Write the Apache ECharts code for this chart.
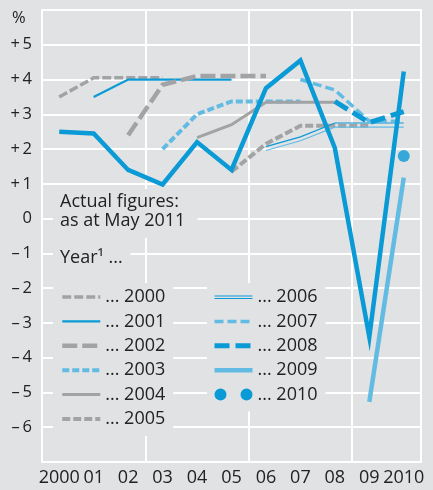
<!DOCTYPE html>
<html>
<head>
<meta charset="utf-8">
<script src="https://cdn.jsdelivr.net/npm/echarts@6/dist/echarts.min.js"></script>
<style>
html, body { margin: 0; padding: 0; background: #e1e2e4; }
#chart { width: 433px; height: 490px; }
</style>
</head>
<body>
<div id="chart"></div>
<script>
// x categories and tick labels
const years = [2000, 2001, 2002, 2003, 2004, 2005, 2006, 2007, 2008, 2009, 2010];
const yearLabels = ['2000', '01', '02', '03', '04', '05', '06', '07', '08', '09', '2010'];

// actual figures (as at May 2011)
const actual = [2.5, 2.45, 1.4, 0.98, 2.2, 1.4, 3.75, 4.55, 2.03, -3.4, 4.23];

// forecasts made in year ... (first value belongs to that year)
const fc2000 = [3.5, 4.05, 4.05, 4.05];
const fc2001 = [3.5, 4.0, 4.0, 4.0, 4.0];
const fc2002 = [2.4, 3.85, 4.1, 4.1, 4.1];
const fc2003 = [2.0, 3.0, 3.37, 3.37, 3.37];
const fc2004 = [2.33, 2.7, 3.35, 3.35, 3.35];
const fc2005 = [1.35, 2.15, 2.67, 2.67, 2.67];
const fc2006 = [2.07, 2.35, 2.75, 2.75, 2.75];
const fc2006b = [1.96, 2.24, 2.63, 2.63, 2.63];
const fc2007 = [4.0, 3.7, 2.8, 2.8];
const fc2008 = [3.37, 2.76, 3.08];
const fc2009 = [-5.27, 1.18];
const fc2010 = [1.8];

const BG = '#e1e2e4';
const GREY = '#a2a3a5';
const BLUE = '#0a9ad6';
const LBLUE = '#62bbe2';
const TXT = '#222';
const FONT = 'Open Sans';

function seg(start, vals) {
    return vals.map((v, i) => [start + i, v]);
}

function line(name, start, vals, color, width, type, z) {
    return {
        name: name,
        type: 'line',
        xAxisIndex: 0,
        symbol: 'none',
        z: z || 2,
        color: color,
        lineStyle: { color: color, width: width, type: type || 'solid', cap: 'butt', join: 'miter' },
        data: seg(start, vals)
    };
}

const legendText = {
    fontFamily: FONT,
    fontSize: 18,
    lineHeight: 17,
    color: TXT
};

const option = {
    backgroundColor: BG,
    animation: false,
    grid: {
        left: 42, right: 12, top: 10, bottom: 28,
        show: true,
        borderColor: '#fff',
        borderWidth: 2
    },
    xAxis: [
        {
            type: 'value',
            min: 1999.5,
            max: 2010.5,
            interval: 3,
            axisLine: { show: false },
            axisTick: { show: false },
            axisLabel: { show: false },
            splitLine: { lineStyle: { color: '#fff', width: 2 } }
        },
        {
            type: 'category',
            position: 'bottom',
            data: yearLabels,
            boundaryGap: true,
            axisLine: { show: false },
            axisTick: { inside: true, interval: 0, length: 19, lineStyle: { color: '#fff', width: 2 } },
            axisLabel: { interval: 0, margin: 7, fontFamily: FONT, fontSize: 18, color: TXT },
            splitLine: { show: false }
        }
    ],
    yAxis: {
        type: 'value',
        min: -7,
        max: 6,
        interval: 1,
        axisLine: { show: false },
        axisTick: { show: false },
        splitLine: { lineStyle: { color: '#fff', width: 2 } },
        axisLabel: {
            margin: 10,
            fontFamily: FONT,
            fontSize: 16.5,
            color: TXT,
            formatter: function (v) {
                if (v === 6 || v === -7) return '';
                if (v > 0) return '+\u2009' + v;
                if (v < 0) return '\u2013\u2009' + (-v);
                return '0';
            }
        }
    },
    legend: [
        {
            orient: 'vertical',
            left: 53, top: 283,
            padding: [5, 8, 8, 7],
            backgroundColor: BG,
            itemWidth: 38, itemHeight: 12, itemGap: 6.4,
            selectedMode: false,
            textStyle: legendText,
            itemStyle: { opacity: 0 },
            lineStyle: { width: 'inherit' },
            formatter: '... {name}',
            data: ['2000', '2001', '2002', '2003', '2004', '2005']
        },
        {
            orient: 'vertical',
            left: 207, top: 283,
            padding: [5, 8, 8, 5],
            backgroundColor: BG,
            itemWidth: 38, itemHeight: 12, itemGap: 6.4,
            selectedMode: false,
            textStyle: legendText,
            itemStyle: { opacity: 0 },
            lineStyle: { width: 'inherit' },
            formatter: '... {name}',
            data: [
                { name: '2006', icon: 'path://M0,0h0.01v0.01h-0.01zM0,4.4h38v1.2h-38zM0,6.9h38v1.2h-38zM0,12h0.01v0.01h-0.01z', itemStyle: { opacity: 1 } },
                '2007', '2008', '2009',
                { name: '2010', icon: 'path://M0,6a6,6 0 1,0 12,0a6,6 0 1,0 -12,0zM26,6a6,6 0 1,0 12,0a6,6 0 1,0 -12,0z', itemStyle: { opacity: 1 } }
            ]
        }
    ],
    graphic: [
        {
            type: 'text', x: 12, y: 10, z: 10,
            style: { text: '%', fill: TXT, fontFamily: FONT, fontSize: 16.5 }
        },
        {
            type: 'text', x: 53, y: 189, z: 10,
            style: {
                text: 'Actual figures:\nas at May 2011',
                fill: TXT, fontFamily: FONT, fontSize: 18, lineHeight: 18.5,
                backgroundColor: BG, padding: [4, 12, 8, 7]
            }
        },
        {
            type: 'text', x: 53, y: 245, z: 10,
            style: {
                text: 'Year\u00b9 ...',
                fill: TXT, fontFamily: FONT, fontSize: 18, lineHeight: 18,
                backgroundColor: BG, padding: [4, 8, 4, 7]
            }
        }
    ],
    series: [
        line('Actual', 2000, actual, BLUE, 4.5, 'solid', 3),
        line('2000', 2000, fc2000, GREY, 3.5, [9, 3]),
        line('2001', 2001, fc2001, BLUE, 2.3),
        line('2002', 2002, fc2002, GREY, 4.5, [15, 5]),
        line('2003', 2003, fc2003, LBLUE, 4, [7, 3]),
        line('2004', 2004, fc2004, GREY, 3),
        line('2005', 2005, fc2005, GREY, 4, [8, 3]),
        line('2006', 2006, fc2006, BLUE, 1.2),
        line('2006b', 2006, fc2006b, LBLUE, 1.2),
        line('2007', 2007, fc2007, LBLUE, 3.5, [9, 4]),
        line('2008', 2008, fc2008, BLUE, 5, [15, 6]),
        line('2009', 2009, fc2009, LBLUE, 4.5),
        {
            name: '2010',
            type: 'scatter',
            xAxisIndex: 0,
            symbol: 'circle',
            symbolSize: 12,
            color: BLUE,
            itemStyle: { color: BLUE },
            data: seg(2010, fc2010)
        }
    ]
};

echarts.init(document.getElementById('chart')).setOption(option);
</script>
</body>
</html>
